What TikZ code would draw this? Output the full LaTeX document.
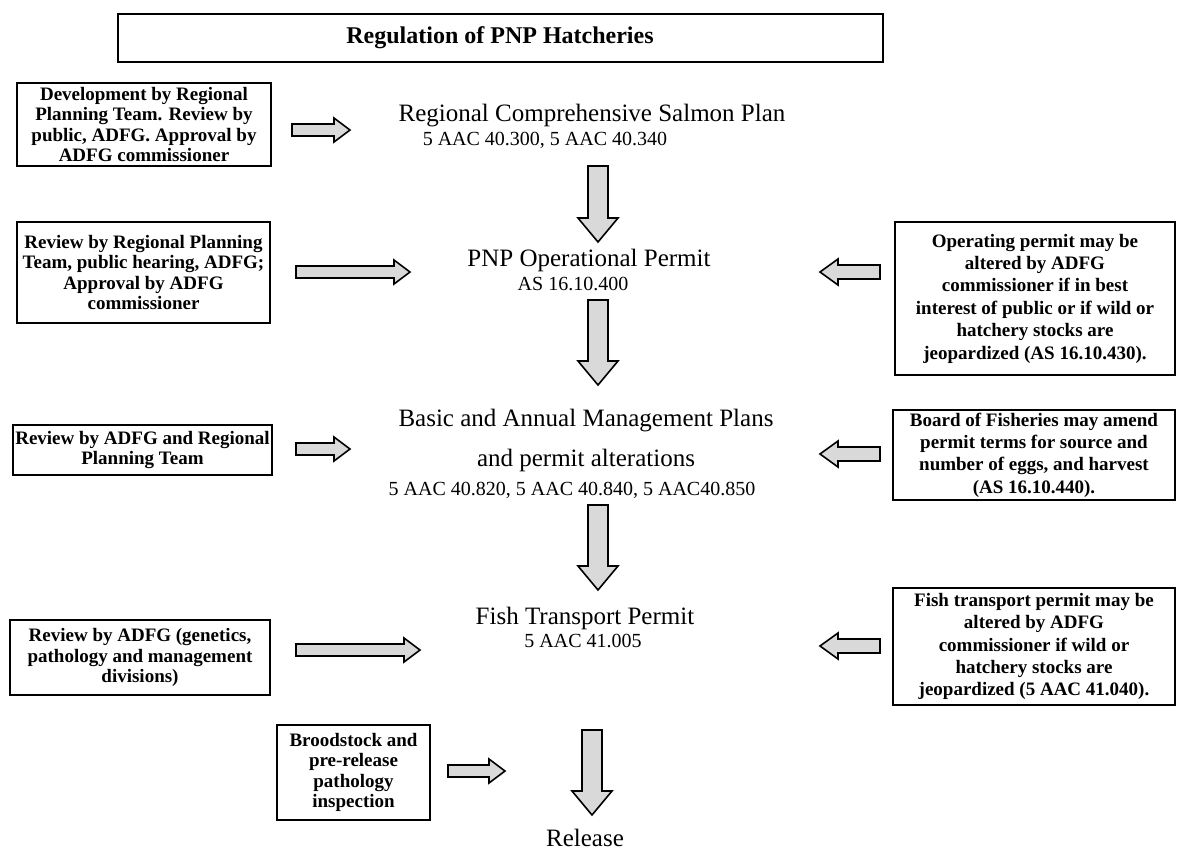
\documentclass[tikz,border=0pt]{standalone}
\usepackage{fontspec}
\setmainfont{Liberation Serif}
\begin{document}
\begin{tikzpicture}[x=0.5pt,y=-0.5pt,
  lbox/.style={draw=black, line width=1pt, align=center, inner sep=1pt,
    font=\fontsize{9.5}{10.3}\selectfont\bfseries},
  rbox/.style={draw=black, line width=1pt, align=center, inner sep=1pt,
    font=\fontsize{9.5}{11.2}\selectfont\bfseries},
  maintext/.style={inner sep=0pt, font=\fontsize{12.5}{15}\selectfont},
  subtext/.style={inner sep=0pt, font=\fontsize{10}{12}\selectfont},
  blockarrow/.style={draw=black, line width=0.8pt, fill=black!15, line join=miter}
]
\useasboundingbox (0,0) rectangle (1180,852);
\newcommand\rightblock[3]{%
 \draw[blockarrow] (#1,#3-6) -- (#2-16,#3-6) -- (#2-16,#3-12) -- (#2,#3) -- (#2-16,#3+12) -- (#2-16,#3+6) -- (#1,#3+6) -- cycle;}
\newcommand\leftblock[3]{%
 \draw[blockarrow] (#2,#3-7) -- (#1+18,#3-7) -- (#1+18,#3-13) -- (#1,#3) -- (#1+18,#3+13) -- (#1+18,#3+7) -- (#2,#3+7) -- cycle;}
\newcommand\downblock[3]{%
 \draw[blockarrow] (#1-10,#2) -- (#1-10,#3-24) -- (#1-20,#3-24) -- (#1,#3) -- (#1+20,#3-24) -- (#1+10,#3-24) -- (#1+10,#2) -- cycle;}

% title
\node[draw=black, line width=1pt, minimum width=382.5pt, minimum height=24pt, inner sep=0pt,
  font=\fontsize{12}{14}\selectfont\bfseries] (title) at (500,38) {Regulation of PNP Hatcheries};

% left boxes
\node[lbox, minimum width=127pt, minimum height=41.5pt] (b1) at (144,124.5)
  {Development by Regional\\Planning Team. Review by\\public, ADFG. Approval by\\ADFG commissioner};
\node[lbox, minimum width=126.5pt, minimum height=50.5pt] (b2) at (143.5,272.5)
  {Review by Regional Planning\\Team, public hearing, ADFG;\\Approval by ADFG\\commissioner};
\node[lbox, minimum width=127.5pt, minimum height=25pt] (b3) at (142.5,450)
  {Review by ADFG and Regional\\Planning Team};
\node[lbox, minimum width=130pt, minimum height=37.5pt] (b4) at (140,657.5)
  {Review by ADFG (genetics,\\pathology and management\\divisions)};
\node[lbox, minimum width=76.5pt, minimum height=47.5pt] (b5) at (353.5,772.5)
  {Broodstock and\\pre-release\\pathology\\inspection};

% right boxes
\node[rbox, minimum width=140pt, minimum height=76.5pt] (r1) at (1035,298.5)
  {Operating permit may be\\altered by ADFG\\commissioner if in best\\interest of public or if wild or\\hatchery stocks are\\jeopardized (AS 16.10.430).};
\node[rbox, minimum width=141pt, minimum height=45pt] (r2) at (1034,455)
  {Board of Fisheries may amend\\permit terms for source and\\number of eggs, and harvest\\(AS 16.10.440).};
\node[rbox, minimum width=141pt, minimum height=58.5pt] (r3) at (1034,646.5)
  {Fish transport permit may be\\altered by ADFG\\commissioner if wild or\\hatchery stocks are\\jeopardized (5 AAC 41.040).};

% middle column
\node[maintext] (m1) at (592,116) {Regional Comprehensive Salmon Plan};
\node[subtext] (s1) at (545,140) {5 AAC 40.300, 5 AAC 40.340};
\node[maintext] (m2) at (589,260) {PNP Operational Permit};
\node[subtext] (s2) at (573,284) {AS 16.10.400};
\node[maintext] (m3) at (586,421) {Basic and Annual Management Plans};
\node[maintext] (m3b) at (586,460) {and permit alterations};
\node[subtext] (s3) at (572,490) {5 AAC 40.820, 5 AAC 40.840, 5 AAC40.850};
\node[maintext] (m4) at (585,618) {Fish Transport Permit};
\node[subtext] (s4) at (583,641) {5 AAC 41.005};
\node[maintext] (m5) at (585,838) {Release};

% block arrows
\rightblock{292}{350}{130}
\rightblock{296}{410}{272}
\rightblock{296}{350}{449}
\rightblock{296}{420}{650}
\rightblock{448}{505}{771}
\leftblock{820}{880}{272}
\leftblock{820}{880}{454}
\leftblock{820}{880}{646}
\downblock{598}{166}{242}
\downblock{598}{300}{385}
\downblock{598}{505}{590}
\downblock{592}{730}{815}
\end{tikzpicture}
\end{document}
